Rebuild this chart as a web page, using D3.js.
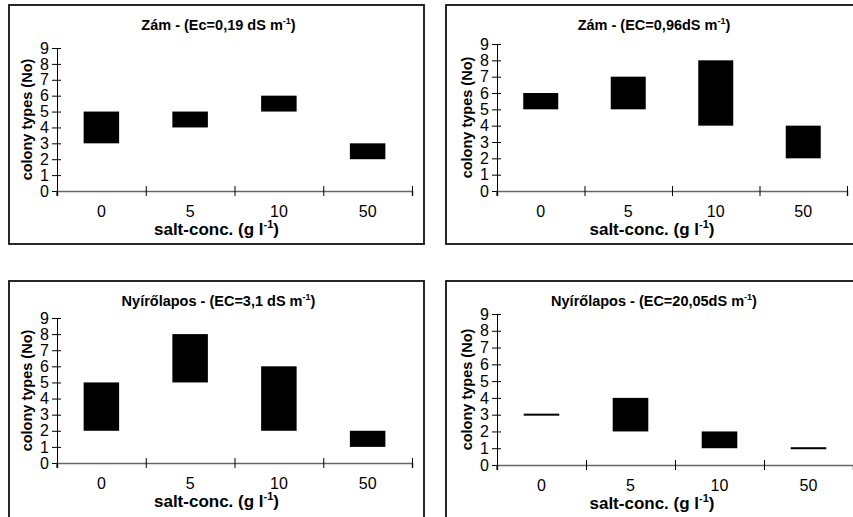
<!DOCTYPE html>
<html>
<head>
<meta charset="utf-8">
<script src="https://d3js.org/d3.v7.min.js"></script>
<style>
  body { margin: 0; background: #fff; }
  text { font-family: "Liberation Sans", Arial, sans-serif; fill: #000; }
  .title, .axis-title { font-weight: bold; }
</style>
</head>
<body>
<svg id="chart"></svg>
<script>
const WIDTH  = 853;
const HEIGHT = 517;

// data
const categories  = ["0", "5", "10", "50"];
const yTickValues = [0, 1, 2, 3, 4, 5, 6, 7, 8, 9];
const siteTitles  = ["Zám - (Ec=0,19 dS m", "Zám - (EC=0,96dS m", "Nyírőlapos - (EC=3,1 dS m", "Nyírőlapos - (EC=20,05dS m"];
const lowZam019   = [3, 4, 5, 2];
const highZam019  = [5, 5, 6, 3];
const lowZam096   = [5, 5, 4, 2];
const highZam096  = [6, 7, 8, 4];
const lowNyir31   = [2, 5, 2, 1];
const highNyir31  = [5, 8, 6, 2];
const lowNyir2005 = [3, 2, 1, 1];
const highNyir2005 = [3, 4, 2, 1];

// panel layout: frame [x0,y0,x1,y1], plot [left,right,yZero,yNine]
const panels = [
  { title: siteTitles[0], low: lowZam019,   high: highZam019,   frame: [9, 5, 424, 244],     plot: [57, 412, 191, 48] },
  { title: siteTitles[1], low: lowZam096,   high: highZam096,   frame: [446, 5, 858, 244],   plot: [497, 847, 191, 44] },
  { title: siteTitles[2], low: lowNyir31,   high: highNyir31,   frame: [9, 281, 424, 540],   plot: [57, 412, 463, 318] },
  { title: siteTitles[3], low: lowNyir2005, high: highNyir2005, frame: [446, 281, 858, 540], plot: [497, 853, 465, 314] }
];

const svg = d3.select('#chart')
  .attr('width', WIDTH)
  .attr('height', HEIGHT);

panels.forEach(function(p) {
  const [fx0, fy0, fx1, fy1] = p.frame;
  const [left, right, y0, y9] = p.plot;
  const g = svg.append('g');

  g.append('rect')
    .attr('x', fx0).attr('y', fy0)
    .attr('width', fx1 - fx0).attr('height', fy1 - fy0)
    .attr('fill', '#fff')
    .attr('stroke', '#111')
    .attr('stroke-width', 1.8);

  const y = d3.scaleLinear().domain([0, 9]).range([y0, y9]);
  const xBand = d3.scaleBand().domain(categories).range([left, right]);
  const xEdge = d3.scaleLinear().domain([0, categories.length]).range([left, right]);

  // y axis
  g.append('g')
    .attr('transform', 'translate(' + left + ',0)')
    .call(d3.axisLeft(y).tickValues(yTickValues).tickSize(5).tickPadding(3).tickFormat(d3.format('d')))
    .call(a => a.attr('font-size', null).attr('font-family', null))
    .call(a => a.selectAll('.tick text').style('font-size', '16px'))
    .call(a => a.select('.domain').attr('stroke', '#000'))
    .call(a => a.selectAll('.tick line').attr('x1', 4).attr('stroke', '#000'));

  // x axis line + boundary ticks
  g.append('g')
    .attr('transform', 'translate(0,' + y0 + ')')
    .call(d3.axisBottom(xEdge).tickValues(d3.range(categories.length + 1)).tickSize(5).tickFormat(''))
    .call(a => a.select('.domain').attr('stroke', '#666').attr('stroke-width', 1.6))
    .call(a => a.selectAll('.tick line').attr('y1', -5).attr('stroke', '#000'));

  // y axis extends slightly under the x axis
  g.append('line')
    .attr('x1', left).attr('x2', left)
    .attr('y1', y0).attr('y2', y0 + 5)
    .attr('stroke', '#000');

  // category labels
  g.append('g')
    .attr('transform', 'translate(0,' + y0 + ')')
    .call(d3.axisBottom(xBand).tickSize(0).tickPadding(15))
    .call(a => a.attr('font-size', null).attr('font-family', null))
    .call(a => a.selectAll('.tick text').style('font-size', '16px'))
    .call(a => a.select('.domain').remove());

  // bars: low to high
  const bw = xBand.bandwidth();
  g.selectAll('rect.bar')
    .data(categories.map((c, i) => ({ cat: c, low: p.low[i], high: p.high[i] })))
    .join('rect')
      .attr('class', 'bar')
      .attr('x', d => xBand(d.cat) + bw * 0.3)
      .attr('width', bw * 0.4)
      .attr('y', d => d.high === d.low ? y(d.high) - 1 : y(d.high))
      .attr('height', d => Math.max(2, y(d.low) - y(d.high)))
      .attr('fill', '#000');

  const cx = (fx0 + Math.min(fx1, WIDTH + 8)) / 2;

  // title
  const t = g.append('text')
    .attr('class', 'title')
    .attr('x', cx + 2)
    .attr('y', fy0 + 25)
    .attr('text-anchor', 'middle')
    .style('font-size', '14.5px');
  t.append('tspan').text(p.title);
  t.append('tspan').attr('dy', -6).style('font-size', '9px').text('-1');
  t.append('tspan').attr('dy', 6).text(')');

  // x axis title
  const xt = g.append('text')
    .attr('class', 'axis-title')
    .attr('x', cx)
    .attr('y', y0 + 44)
    .attr('text-anchor', 'middle')
    .style('font-size', '17px');
  xt.append('tspan').text('salt-conc. (g l');
  xt.append('tspan').attr('dy', -7).style('font-size', '11px').text('-1');
  xt.append('tspan').attr('dy', 7).text(')');

  // y axis title
  g.append('text')
    .attr('class', 'axis-title')
    .attr('transform', 'translate(' + (left - 25) + ',' + ((y0 + y9) / 2) + ') rotate(-90)')
    .attr('text-anchor', 'middle')
    .style('font-size', '14.5px')
    .text('colony types (No)');
});
</script>
</body>
</html>
